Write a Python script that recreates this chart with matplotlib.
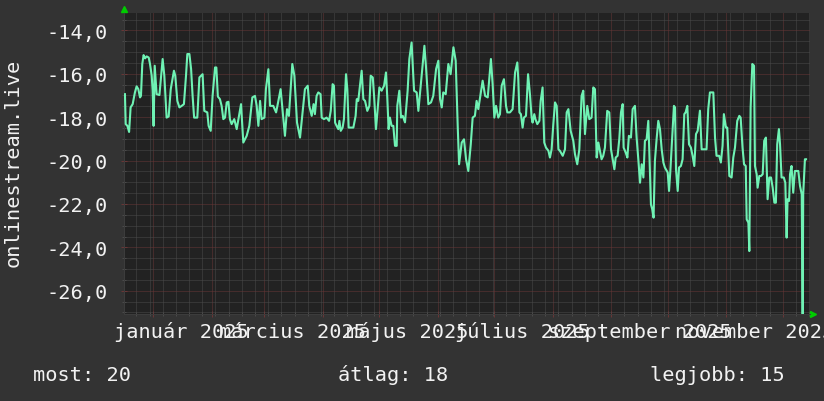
import numpy as np
import pandas as pd
import matplotlib
matplotlib.use("Agg")
import matplotlib.pyplot as plt
import matplotlib.dates as mdates
import matplotlib.transforms as mtransforms

# time axis: day offsets from the left edge of the graph
start = pd.Timestamp("2024-12-16 11:00")
span_days = 364.0

days = [
    0.5, 0.9, 1.8, 2.7, 3.5, 4.6, 5.8, 6.7, 7.6, 8.5, 9.0, 9.7, 10.4, 11.2, 12.0, 13.1,
    13.8, 14.7, 15.2, 15.7, 16.3, 17.3, 18.8, 20.5, 21.4, 22.6, 23.7, 24.8, 26.5, 27.2,
    28.3, 29.4, 30.6, 31.8, 32.9, 33.6, 34.7, 35.6, 36.4, 37.2, 38.9, 40.0, 41.7, 42.6,
    44.2, 44.9, 46.0, 47.0, 48.3, 49.0, 49.8, 50.9, 51.8, 52.7, 53.6, 54.5, 55.4, 56.2,
    57.1, 58.5, 59.8, 62.1, 63.3, 65.1, 66.5, 68.1, 69.5, 70.4, 71.3, 72.2, 73.0, 74.5,
    75.3, 76.6, 77.5, 79.2, 80.7, 81.4, 83.1, 85.4, 86.5, 87.5, 89.3, 90.4, 91.8, 93.4,
    96.0, 97.5, 98.3, 99.6, 100.6, 101.3, 102.2, 103.1, 104.3, 104.9, 106.1, 107.5, 108.8,
    109.7, 110.7, 111.4, 112.0, 112.8, 113.7, 114.3, 115.0, 116.0, 116.7, 117.8, 118.5,
    119.2, 121.7, 122.9, 123.5, 124.3, 125.2, 126.1, 127.0, 127.9, 129.1, 130.2, 130.9,
    132.0, 132.7, 133.7, 134.6, 135.5, 136.7, 138.0, 139.0, 139.7, 140.4, 141.1, 142.0,
    142.9, 143.8, 144.7, 145.0, 146.1, 147.0, 147.9, 149.1, 150.5, 151.4, 152.6, 153.9,
    155.3, 156.2, 159.4, 160.2, 161.5, 162.9, 164.1, 165.6, 166.8, 167.7, 168.6, 169.4,
    170.7, 172.1, 173.3, 174.8, 176.0, 177.1, 177.8, 179.2, 180.4, 181.5, 182.7, 184.0,
    185.0, 186.2, 187.1, 188.0, 190.3, 191.6, 193.0, 194.7, 195.6, 196.5, 197.4, 198.6,
    199.5, 200.4, 201.6, 202.7, 203.4, 204.8, 206.2, 207.5, 208.7, 209.2, 209.8, 210.6,
    211.5, 212.2, 213.3, 214.4, 215.4, 216.3, 216.8, 217.7, 218.3, 219.3, 220.4, 221.1,
    222.1, 223.0, 223.9, 225.2, 226.0, 226.9, 227.8, 228.7, 229.6, 230.5, 231.3, 232.8,
    234.0, 234.9, 235.8, 237.0, 238.4, 239.3, 240.5, 241.6, 242.8, 243.7, 244.6, 245.8,
    246.9, 248.1, 249.0, 249.9, 250.4, 250.8, 251.7, 252.4, 253.4, 254.3, 255.2, 256.4,
    257.5, 258.4, 259.3, 260.2, 260.9, 261.9, 262.8, 263.7, 264.6, 265.1, 266.2, 267.1,
    267.9, 269.0, 269.9, 271.1, 272.0, 272.9, 273.8, 274.7, 275.6, 276.4, 277.3, 278.2,
    278.7, 279.6, 280.3, 281.0, 281.7, 282.6, 283.5, 284.4, 285.3, 286.2, 287.0, 288.5,
    289.2, 289.9, 290.9, 291.8, 292.4, 292.9, 293.8, 294.5, 295.5, 296.4, 297.3, 298.0,
    298.9, 299.8, 300.8, 301.7, 302.6, 303.5, 304.4, 305.6, 306.5, 309.1, 310.0, 310.9,
    312.7, 313.6, 314.4, 315.8, 316.7, 317.6, 318.3, 319.4, 320.1, 321.2, 322.4, 323.3,
    324.2, 325.4, 326.5, 327.2, 328.2, 329.0, 329.9, 330.4, 331.3, 331.8, 332.5, 333.4,
    334.3, 334.8, 335.7, 336.2, 337.1, 338.0, 338.9, 339.7, 340.6, 341.5, 342.4, 343.3,
    344.2, 345.1, 345.9, 346.6, 347.5, 348.1, 348.9, 350.1, 350.9, 351.6, 352.1, 352.9,
    353.4, 354.2, 355.1, 356.0, 357.8, 358.7, 359.6, 360.1, 360.4, 361.3, 361.9,
]
values = [
    -16.94, -18.32, -18.40, -18.68, -17.55, -17.40, -16.86, -16.58, -16.71, -17.09, -17.02,
    -15.55, -15.14, -15.29, -15.20, -15.25, -15.55, -16.09, -16.78, -18.40, -15.63, -16.94,
    -16.98, -15.32, -16.09, -18.02, -17.97, -16.71, -15.86, -16.09, -17.25, -17.55, -17.48,
    -17.40, -16.09, -15.09, -15.09, -15.78, -17.02, -18.02, -18.02, -16.17, -16.02, -17.71,
    -17.78, -18.40, -18.63, -17.02, -15.71, -15.71, -17.05, -17.17, -17.48, -18.09, -18.02,
    -17.32, -17.29, -18.09, -18.32, -18.09, -18.55, -17.40, -19.17, -18.86, -18.40, -17.09,
    -17.02, -17.48, -18.40, -17.25, -18.09, -18.02, -16.71, -15.79, -17.48, -17.48, -17.78,
    -17.48, -16.71, -18.86, -17.63, -17.94, -15.55, -16.09, -18.25, -18.94, -16.71, -16.55,
    -17.48, -17.94, -17.40, -17.86, -17.02, -16.86, -16.94, -18.02, -18.09, -18.02, -18.17,
    -17.71, -16.48, -16.55, -18.25, -18.40, -18.55, -18.17, -18.63, -18.48, -18.09, -16.02,
    -16.71, -18.48, -18.48, -17.94, -17.17, -17.25, -16.55, -15.86, -17.17, -17.25, -17.71,
    -17.48, -16.09, -16.17, -17.02, -18.55, -17.63, -16.63, -16.78, -16.55, -15.94, -17.09,
    -18.55, -18.02, -18.40, -18.40, -19.32, -19.32, -17.48, -16.78, -18.02, -17.94, -18.24,
    -16.78, -15.32, -14.56, -16.78, -16.86, -17.71, -14.71, -15.63, -17.40, -17.32, -17.02,
    -15.78, -15.40, -17.17, -17.55, -16.86, -16.94, -15.55, -16.02, -14.78, -15.40, -18.48,
    -20.17, -19.17, -19.02, -19.94, -20.48, -19.25, -18.02, -17.94, -17.25, -17.63, -16.32,
    -17.02, -17.09, -15.32, -16.48, -18.02, -17.48, -18.02, -17.86, -16.55, -16.25, -17.48,
    -17.78, -17.78, -17.63, -15.94, -15.48, -16.25, -17.78, -17.86, -18.48, -18.02, -17.94,
    -16.02, -16.94, -18.02, -18.25, -17.86, -18.09, -18.32, -18.17, -17.25, -16.63, -19.17,
    -19.40, -19.55, -19.86, -19.48, -18.32, -17.32, -17.48, -19.48, -19.55, -19.78, -19.48,
    -17.78, -17.63, -18.63, -19.09, -19.71, -20.17, -19.48, -17.02, -16.78, -18.78, -17.48,
    -18.09, -18.02, -16.63, -16.71, -18.40, -19.86, -19.17, -19.48, -19.94, -19.78, -19.40,
    -17.71, -17.78, -19.48, -19.94, -20.40, -19.86, -19.78, -19.02, -17.78, -17.40, -19.40,
    -19.63, -19.86, -18.86, -18.94, -17.63, -17.48, -18.94, -19.94, -21.02, -20.17, -20.78,
    -19.09, -19.02, -18.17, -19.48, -22.02, -22.25, -22.63, -20.02, -19.02, -18.17, -18.55,
    -19.48, -20.09, -20.32, -20.55, -21.40, -20.48, -18.86, -17.48, -17.55, -20.40, -21.40,
    -20.32, -20.25, -19.94, -17.86, -17.78, -17.48, -19.25, -19.40, -19.78, -20.25, -18.78,
    -18.63, -17.70, -19.48, -19.48, -17.63, -16.86, -16.86, -18.94, -19.78, -19.78, -20.09,
    -19.32, -17.86, -18.48, -18.48, -20.71, -20.78, -19.86, -19.40, -18.17, -17.94, -18.02,
    -19.40, -20.17, -20.25, -22.71, -22.86, -24.17, -17.55, -15.55, -15.63, -20.25, -20.63,
    -21.25, -20.71, -20.71, -20.63, -19.09, -18.94, -21.78, -20.78, -20.78, -21.25, -21.94,
    -21.94, -19.25, -18.55, -19.25, -20.78, -20.78, -21.02, -23.55, -21.78, -21.86, -20.63,
    -20.25, -21.48, -20.48, -20.48, -21.17, -21.55, -27.10, -21.55, -19.94, -19.94,
]

label_months = ["2025-01-01", "2025-03-01", "2025-05-01", "2025-07-01", "2025-09-01", "2025-11-01"]
label_texts = ["január 2025", "március 2025", "május 2025", "július 2025",
               "szeptember 2025", "november 2025"]
legend_texts = ["most: 20", "átlag: 18", "legjobb: 15"]
y_label = "onlinestream.live"

BG = "#333333"
CANVAS = "#222222"
MINOR = "#4a4a4a"
MAJOR = "#683636"
LINE = "#6ff2b4"
FONT = "#f2f2f2"
FS = 14.6
plt.rcParams["font.family"] = ["DejaVu Sans Mono"]

W, H = 824, 402
fig = plt.figure(figsize=(W / 100, H / 100), dpi=100, facecolor=BG)
left, right, top, bottom = 124, 810, 14, 315
ax = fig.add_axes([left / W, 1 - bottom / H, (right - left) / W, (bottom - top) / H])
ax.set_facecolor(CANVAS)

dates = start + pd.to_timedelta(days, unit="D")
ax.plot(dates, values, color=LINE, lw=1.5, zorder=3)

ax.set_xlim(start, start + pd.Timedelta(days=span_days))
ax.set_ylim(-27.07, -13.2)

ax.xaxis.set_major_locator(mdates.MonthLocator())
ax.xaxis.set_minor_locator(mdates.WeekdayLocator(byweekday=mdates.MO))
ax.xaxis.set_major_formatter(plt.NullFormatter())
ax.set_yticks(np.arange(-26, -13, 2))
ax.set_yticks(np.arange(-27, -13, 0.5), minor=True)
ax.set_yticklabels([f"{v:.1f}".replace(".", ",") for v in np.arange(-26, -13, 2)])

dots = (0, (1, 1))
ax.grid(True, which="minor", color=MINOR, ls=dots, lw=0.72, zorder=1)
ax.grid(True, which="major", color=MAJOR, ls=dots, lw=0.72, zorder=2)
ax.set_axisbelow(True)

ax.tick_params(which="major", direction="inout", length=4, width=0.72, color=MAJOR,
               labelsize=FS, labelcolor=FONT, pad=9.5)
ax.tick_params(which="minor", direction="inout", length=3, width=0.72, color=MINOR)
for s in ["top", "right"]:
    ax.spines[s].set_visible(False)
for s in ["left", "bottom"]:
    ax.spines[s].set_color("#3c3c3c")
    ax.spines[s].set_linewidth(0.72)

# axis arrows
ax.plot([0], [1.013], marker="^", ms=5, color="#00cc00", transform=ax.transAxes, clip_on=False)
ax.plot([1.004], [0], marker=">", ms=5, color="#00cc00", transform=ax.transAxes, clip_on=False)

# month labels centred half a month after the tick
trans = mtransforms.blended_transform_factory(ax.transData, fig.transFigure)
for m, t in zip(label_months, label_texts):
    xpos = mdates.date2num(pd.Timestamp(m) + pd.Timedelta(days=15))
    ax.text(xpos, 1 - 338 / H, t, transform=trans, ha="center", va="baseline",
            fontsize=FS, color=FONT, clip_on=False)

fig.text(13 / W, 1 - 163 / H, y_label, rotation=90, ha="center", va="center",
         fontsize=FS, color=FONT)

for xp, t in zip([33, 338, 650], legend_texts):
    fig.text(xp / W, 1 - 381 / H, t, ha="left", va="baseline", fontsize=FS, color=FONT)

fig.savefig("out.png", dpi=100, facecolor=BG)
